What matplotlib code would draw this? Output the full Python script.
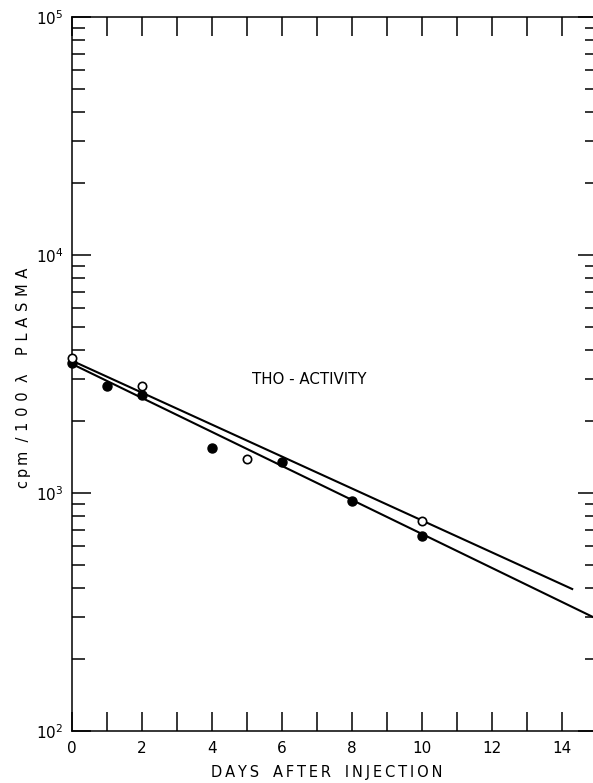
import matplotlib
matplotlib.use("Agg")
import matplotlib.pyplot as plt
from matplotlib.ticker import LogLocator, FixedLocator, NullFormatter

# plasma tritium activity, two animals
days_filled = [0, 1, 2, 4, 6, 8, 10]
cpm_filled = [3510, 2825, 2580, 1550, 1345, 925, 660]
days_open = [0, 2, 5, 10]
cpm_open = [3680, 2825, 1390, 762]

# fitted exponential decay lines (straight on log scale)
fit_open_days = [0, 14.3]
fit_open_cpm = [3600, 395]
fit_filled_days = [0, 15]
fit_filled_cpm = [3490, 296]

x_ticks = list(range(0, 16))
y_major = [1e2, 1e3, 1e4, 1e5]
y_labels = [r"$10^{2}$", r"$10^{3}$", r"$10^{4}$", r"$10^{5}$"]


def spaced(s, n=1):
    # open up the lettering a little, like the hand-lettered original
    return ("\u2009" * n).join(s)


plt.rcParams["font.family"] = ["DejaVu Sans"]

W, H = 593, 783
fig = plt.figure(figsize=(W / 100, H / 100), dpi=100)
ax = fig.add_axes([71.7 / W, (H - 731) / H, 525 / W, 714 / H])

ax.set_yscale("log")
ax.set_xlim(0, 15)
ax.set_ylim(1e2, 1e5)

ax.plot(fit_open_days, fit_open_cpm, color="black", lw=1.5, zorder=2)
ax.plot(fit_filled_days, fit_filled_cpm, color="black", lw=1.5, zorder=2)
ax.plot(days_filled, cpm_filled, "o", color="black", ms=6.5, zorder=3,
        clip_on=False)
ax.plot(days_open, cpm_open, "o", mfc="white", mec="black", mew=1.2,
        ms=6, zorder=4, clip_on=False)

ax.text(6.8, 2985, "THO - ACTIVITY", fontsize=10.8, ha="center", va="center")

# axes frame
for side in ["left", "bottom", "top"]:
    ax.spines[side].set_linewidth(1.1)
ax.spines["right"].set_visible(False)

ax.xaxis.set_major_locator(FixedLocator(x_ticks))
ax.set_xticklabels([str(v) if v % 2 == 0 else "" for v in x_ticks])
ax.tick_params(axis="x", which="major", direction="in", length=14,
               width=1.1, top=True, bottom=True, labelsize=11, pad=7)

ax.yaxis.set_major_locator(FixedLocator(y_major))
ax.set_yticklabels(y_labels)
ax.yaxis.set_minor_locator(LogLocator(base=10, subs=range(2, 10)))
ax.yaxis.set_minor_formatter(NullFormatter())
ax.tick_params(axis="y", which="major", direction="in", length=14,
               width=1.1, left=True, right=True, labelsize=11, pad=6)
ax.tick_params(axis="y", which="minor", direction="in", length=9,
               width=1.1, left=True, right=True)

xlabel = "   ".join(spaced(w) for w in ["DAYS", "AFTER", "INJECTION"])
fig.text(327 / W, 1 - 773 / H, xlabel, fontsize=10.5,
         ha="center", va="center")
ylabel = (spaced("cpm") + "  " + spaced("/100", 2) + "  λ    "
          + spaced("PLASMA", 2))
fig.text(24 / W, 1 - 378 / H, ylabel, fontsize=10.5,
         rotation=90, ha="center", va="center")

fig.savefig("out.png", dpi=100)
